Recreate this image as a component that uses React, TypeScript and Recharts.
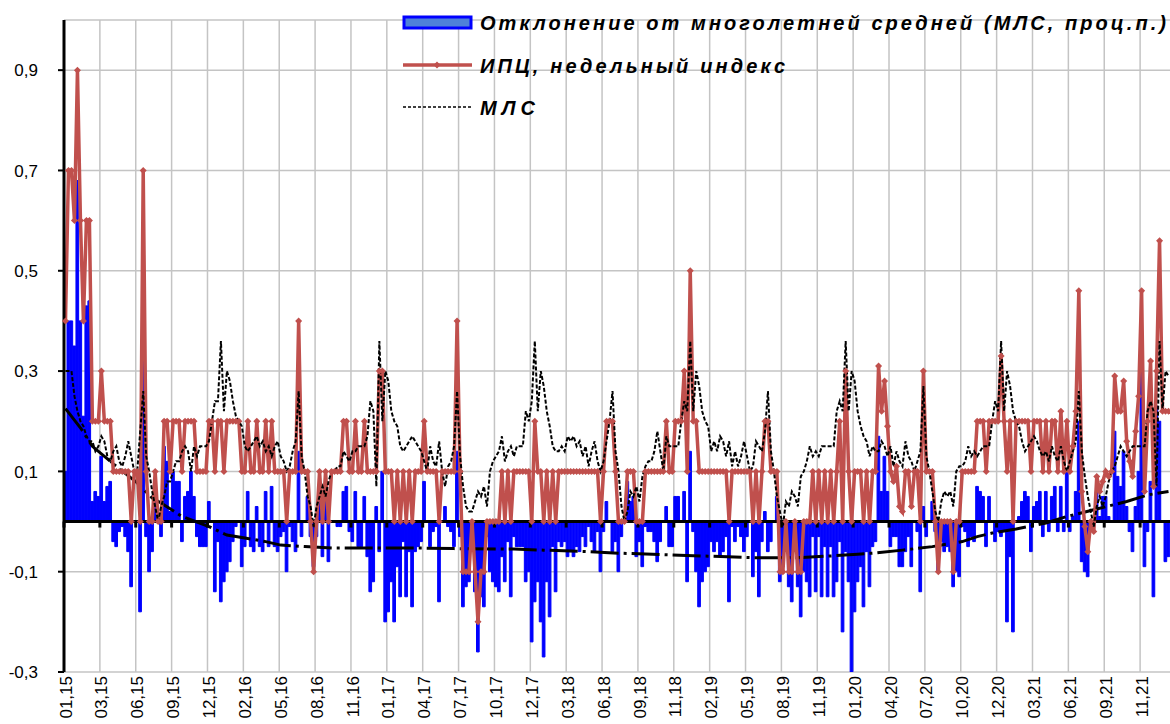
import React from 'react';
import { ComposedChart, Bar, Line, XAxis, YAxis, CartesianGrid, ReferenceLine } from 'recharts';

const xLabels = ['01,15','03,15','06,15','09,15','12,15','02,16','05,16','08,16','11,16','01,17','04,17','07,17','10,17','12,17','03,18','06,18','09,18','11,18','02,19','05,19','08,19','11,19','01,20','04,20','07,20','10,20','12,20','03,21','06,21','09,21','11,21'];
const yTicks = [-0.3, -0.1, 0.1, 0.3, 0.5, 0.7, 0.9];

// ИПЦ, недельный индекс (weekly CPI, %)
const cpi2015 = [0.4,0.7,0.7,0.6,0.9,0.6,0.4,0.6,0.6,0.2, 0.2,0.2,0.3,0.2,0.2,0.2,0.1,0.1,0.1,0.1, 0.1,0.1,0.0,0.1,0.1,0.0,0.7,0.1,0.0,0.0, 0.1,0.0,0.0,0.2,0.2,0.1,0.2,0.2,0.2,0.1, 0.2,0.2,0.2,0.2,0.1,0.1,0.1,0.1,0.2,0.2, 0.1,0.2];
const cpi2016 = [0.2,0.1,0.2,0.2,0.2,0.2,0.2,0.1,0.1,0.2, 0.1,0.1,0.2,0.1,0.1,0.2,0.1,0.2,0.1,0.1, 0.1,0.1,0.0,0.1,0.1,0.1,0.4,0.1,0.1,0.1, 0.0,-0.1,0.0,0.1,0.0,0.1,0.0,0.1,0.1,0.1, 0.1,0.2,0.2,0.1,0.1,0.2,0.1,0.1,0.2,0.1, 0.1,0.1,0.1];
const cpi2017 = [0.3,0.3,0.1,0.1,0.1,0.0,0.1,0.0,0.1,0.0, 0.1,0.0,0.1,0.1,0.1,0.2,0.1,0.1,0.1,0.1, 0.0,0.1,0.1,0.1,0.1,0.1,0.4,0.1,-0.1,-0.1, -0.1,0.0,-0.1,-0.2,-0.1,-0.1,0.0,0.0,0.0,0.0, 0.0,0.1,0.0,0.1,0.0,0.1,0.1,0.1,0.1,0.1, 0.1,0.0];
const cpi2018 = [0.2,0.1,0.1,0.0,0.1,0.0,0.1,0.0,0.1,0.1, 0.1,0.1,0.1,0.1,0.1,0.1,0.1,0.1,0.1,0.1, 0.1,0.1,0.0,0.1,0.2,0.2,0.2,0.1,0.0,0.0, 0.0,0.1,0.1,0.1,0.0,0.0,0.0,0.1,0.1,0.1, 0.1,0.1,0.1,0.1,0.2,0.1,0.1,0.2,0.2,0.2, 0.3,0.1];
const cpi2019 = [0.5,0.2,0.2,0.1,0.1,0.1,0.1,0.1,0.1,0.1, 0.1,0.1,0.1,0.0,0.1,0.1,0.1,0.1,0.1,0.1, 0.1,0.0,0.1,0.0,0.1,0.2,0.2,0.1,0.1,0.1, -0.1,-0.1,0.0,-0.1,-0.1,0.0,-0.1,-0.1,0.0,0.0, 0.0,0.1,0.0,0.1,0.0,0.1,0.0,0.1,0.0,0.1, 0.2,0.0];
const cpi2020 = [0.3,0.1,0.0,0.1,0.1,0.1,0.0,0.1,0.0,0.1, 0.1,0.31,0.22,0.28,0.19,0.10,0.08,0.11,0.03,0.02, 0.10,0.10,0.03,0.10,0.10,0.0,0.30,0.10,0.10,0.10, 0.0,-0.1,0.0,0.0,0.0,0.0,-0.1,0.0,0.0,0.1, 0.1,0.1,0.1,0.1,0.2,0.2,0.2,0.1,0.2,0.2, 0.2,0.2];
const cpi2021 = [0.33,0.2,0.1,0.2,0.0,0.2,0.2,0.2,0.2,0.2, 0.1,0.2,0.2,0.2,0.1,0.2,0.1,0.2,0.2,0.1, 0.22,0.1,0.2,0.1,0.15,0.22,0.46,0.06,-0.01,-0.06, 0.0,-0.02,0.09,0.06,0.08,0.1,0.09,0.1,0.29,0.22, 0.22,0.28,0.16,0.12,0.09,0.18,0.25,0.46,0.06,0.2, 0.32,0.07,0.3];
const cpi2022 = [0.56,0.22,0.22,0.22];

// МЛС (multi-year weekly average, %)
const mls2015 = [0.30,0.30,0.30,0.25,0.22,0.20,0.19,0.17,0.16,0.16, 0.14,0.15,0.17,0.16,0.13,0.12,0.14,0.15,0.12,0.11, 0.13,0.16,0.13,0.10,0.10,0.18,0.26,0.13,0.10,0.06, 0.03,0.00,0.03,0.05,0.08,0.08,0.10,0.12,0.12,0.14, 0.15,0.14,0.10,0.15,0.13,0.15,0.15,0.15,0.16,0.20, 0.24,0.24];
const mls2016 = [0.36,0.22,0.30,0.28,0.24,0.21,0.20,0.19,0.15,0.14, 0.15,0.16,0.17,0.15,0.16,0.14,0.15,0.13,0.15,0.16, 0.13,0.12,0.10,0.11,0.14,0.16,0.26,0.13,0.10,0.05, 0.03,-0.01,0.03,0.05,0.07,0.05,0.08,0.10,0.10,0.11, 0.11,0.14,0.13,0.12,0.14,0.14,0.15,0.15,0.15,0.17, 0.24,0.22,0.07];
const mls2017 = [0.36,0.20,0.30,0.28,0.22,0.20,0.19,0.15,0.14,0.15, 0.16,0.17,0.16,0.15,0.14,0.12,0.10,0.15,0.12,0.11, 0.16,0.10,0.07,0.11,0.12,0.15,0.26,0.13,0.07,0.03, 0.02,0.02,0.04,0.06,0.05,0.07,0.03,0.10,0.12,0.13, 0.14,0.17,0.12,0.14,0.15,0.13,0.15,0.15,0.15,0.22, 0.20,0.24];
const mls2018 = [0.36,0.22,0.30,0.27,0.22,0.19,0.15,0.14,0.14,0.15, 0.14,0.17,0.16,0.17,0.15,0.16,0.13,0.15,0.11,0.14, 0.16,0.12,0.10,0.12,0.16,0.20,0.26,0.14,0.10,0.03, 0.00,0.02,0.06,0.05,0.07,0.04,0.09,0.11,0.12,0.12, 0.14,0.18,0.14,0.10,0.17,0.15,0.15,0.15,0.15,0.20, 0.24,0.22];
const mls2019 = [0.36,0.22,0.30,0.27,0.22,0.20,0.19,0.14,0.16,0.14, 0.17,0.16,0.13,0.16,0.11,0.14,0.11,0.13,0.16,0.13, 0.10,0.11,0.16,0.15,0.14,0.18,0.26,0.14,0.10,0.05, 0.02,-0.01,0.04,0.03,0.06,0.05,0.03,0.09,0.10,0.12, 0.15,0.13,0.14,0.13,0.15,0.15,0.15,0.15,0.15,0.22, 0.24,0.22];
const mls2020 = [0.36,0.22,0.30,0.28,0.22,0.19,0.17,0.16,0.13,0.15, 0.14,0.14,0.16,0.15,0.13,0.15,0.11,0.14,0.12,0.11, 0.16,0.13,0.12,0.10,0.12,0.14,0.27,0.13,0.10,0.06, 0.02,0.00,0.04,0.06,0.05,0.06,0.03,0.10,0.11,0.11, 0.12,0.15,0.13,0.14,0.13,0.14,0.15,0.15,0.15,0.20, 0.24,0.22];
const mls2021 = [0.36,0.22,0.30,0.27,0.22,0.20,0.19,0.16,0.14,0.15, 0.16,0.17,0.16,0.14,0.13,0.14,0.12,0.15,0.13,0.12, 0.15,0.12,0.10,0.12,0.14,0.16,0.26,0.14,0.09,0.05, 0.02,-0.01,0.03,0.05,0.03,0.05,0.08,0.10,0.11,0.13, 0.15,0.14,0.13,0.14,0.15,0.15,0.15,0.15,0.15,0.22, 0.24,0.22,0.07];
const mls2022 = [0.36,0.22,0.30,0.29];

// smooth trend of the deviation (thick dashed line), known points
const trendWeeks = [0,5,9,16,24,29,32,39,48,54, 60,67,72,80,90,100,120,130,150,160, 175,185,200,215,230,245,255,265,270,280, 290,300,305,310,318,328,335,345,355,362, 369];
const trendValues = [0.225,0.187,0.15,0.115,0.077,0.047,0.037,0.01,-0.01,-0.027, -0.033,-0.04,-0.047,-0.05,-0.053,-0.053,-0.053,-0.054,-0.055,-0.057, -0.06,-0.063,-0.066,-0.069,-0.072,-0.072,-0.069,-0.065,-0.063,-0.057, -0.05,-0.04,-0.03,-0.023,-0.015,-0.003,0.01,0.025,0.04,0.053, 0.06];

const cpi = [...cpi2015, ...cpi2016, ...cpi2017, ...cpi2018, ...cpi2019, ...cpi2020, ...cpi2021, ...cpi2022];
const mls = [...mls2015, ...mls2016, ...mls2017, ...mls2018, ...mls2019, ...mls2020, ...mls2021, ...mls2022];
const trendMap = new Map<number, number>();
trendWeeks.forEach((w, k) => trendMap.set(w, trendValues[k]));

const data = cpi.map((v, i) => ({
  i,
  cpi: v,
  mls: mls[i],
  dev: Math.round((v - mls[i]) * 100) / 100,
  trend: trendMap.has(i) ? trendMap.get(i) : null,
}));

const N = data.length;
const FONT = '"Liberation Sans", Arial, sans-serif';
const RED = '#C0504D';

const Diamond = (p: any) => {
  const { cx, cy, index } = p;
  if (cx == null || cy == null || isNaN(cx) || isNaN(cy)) return <g key={`d${index}`} />;
  const r = 3.5;
  return <path key={`d${index}`} d={`M${cx},${cy - r}L${cx + r},${cy}L${cx},${cy + r}L${cx - r},${cy}Z`} fill={RED} />;
};

const XTick = (p: any) => {
  const { x, y, payload } = p;
  const lbl = xLabels[Math.round(payload.value / 12)];
  if (!lbl) return <g />;
  const yy = y + 4;
  return (
    <text x={x} y={yy} transform={`rotate(-90 ${x} ${yy})`} textAnchor="end" dy="0.36em" fontSize={17} fontFamily={FONT} fill="#000">
      {lbl}
    </text>
  );
};

const YTick = (p: any) => {
  const { x, y, payload } = p;
  return (
    <text x={x - 18} y={y} dy="0.36em" textAnchor="end" fontSize={17} fontFamily={FONT} fill="#000">
      {String(payload.value).replace('.', ',')}
    </text>
  );
};

const vGen = (props: any) => {
  const off = props && props.offset ? props.offset : { left: 64, width: 1106 };
  const out: number[] = [];
  for (let k = 0; k < xLabels.length; k++) out.push(off.left + (12 * k / N) * off.width);
  return out;
};

const legendFont = { fontFamily: FONT, fontWeight: 700, fontStyle: 'italic' as const, fontSize: 20 };

export default function App() {
  return (
    <div style={{ position: 'absolute', left: 0, top: 0, width: 1170, height: 724, background: '#fff' }}>
      <ComposedChart width={1170} height={724} data={data} margin={{ top: 20, right: 0, bottom: 0, left: 0 }} barGap={0} barCategoryGap={0}>
        <CartesianGrid stroke="#c4c4c4" strokeWidth={1.5} verticalCoordinatesGenerator={vGen} />
        <XAxis dataKey="i" type="category" interval={11} height={52} axisLine={false} tickLine={false} tickSize={0} tickMargin={0} tick={XTick} />
        <YAxis domain={[-0.3, 1.0]} ticks={yTicks} allowDataOverflow width={64} axisLine={{ stroke: '#000', strokeWidth: 3 }} tickLine={{ stroke: '#000', strokeWidth: 2 }} tickSize={6} tick={YTick} />
        <Bar dataKey="dev" fill="#0000FF" stroke="#0000FF" strokeWidth={1} barSize={3} isAnimationActive={false} />
        <ReferenceLine y={0} stroke="#000" strokeWidth={3} />
        {xLabels.map((_, k) => (
          <ReferenceLine key={`zt${k}`} segment={[{ x: k * 12, y: 0 }, { x: k * 12, y: -0.012 }]} position="start" stroke="#000" strokeWidth={3} />
        ))}
        <Line dataKey="trend" connectNulls stroke="#000" strokeWidth={3} strokeDasharray="28 5 3 5" dot={false} activeDot={false} isAnimationActive={false} />
        <Line dataKey="cpi" stroke={RED} strokeWidth={3.5} dot={Diamond} activeDot={false} isAnimationActive={false} />
        <Line dataKey="mls" stroke="#000" strokeWidth={2} strokeDasharray="4 2" dot={false} activeDot={false} isAnimationActive={false} />
      </ComposedChart>
      <svg width={1170} height={130} style={{ position: 'absolute', left: 0, top: 0, pointerEvents: 'none' }}>
        <rect x={404} y={17} width={67} height={11} fill="#4F81D9" stroke="#0000FF" strokeWidth={3} />
        <text x={480} y={30} textLength={686} lengthAdjust="spacing" {...legendFont}>Отклонение от многолетней средней (МЛС, проц.п.)</text>
        <line x1={403} y1={65} x2={472} y2={65} stroke={RED} strokeWidth={3.5} />
        <path d="M437,61.5L440.5,65L437,68.5L433.5,65Z" fill={RED} />
        <text x={480} y={73} textLength={305} lengthAdjust="spacing" {...legendFont}>ИПЦ, недельный индекс</text>
        <line x1={403} y1={107} x2={472} y2={107} stroke="#000" strokeWidth={1.5} strokeDasharray="3 2" />
        <text x={480} y={115} textLength={55} lengthAdjust="spacing" {...legendFont}>МЛС</text>
      </svg>
    </div>
  );
}
